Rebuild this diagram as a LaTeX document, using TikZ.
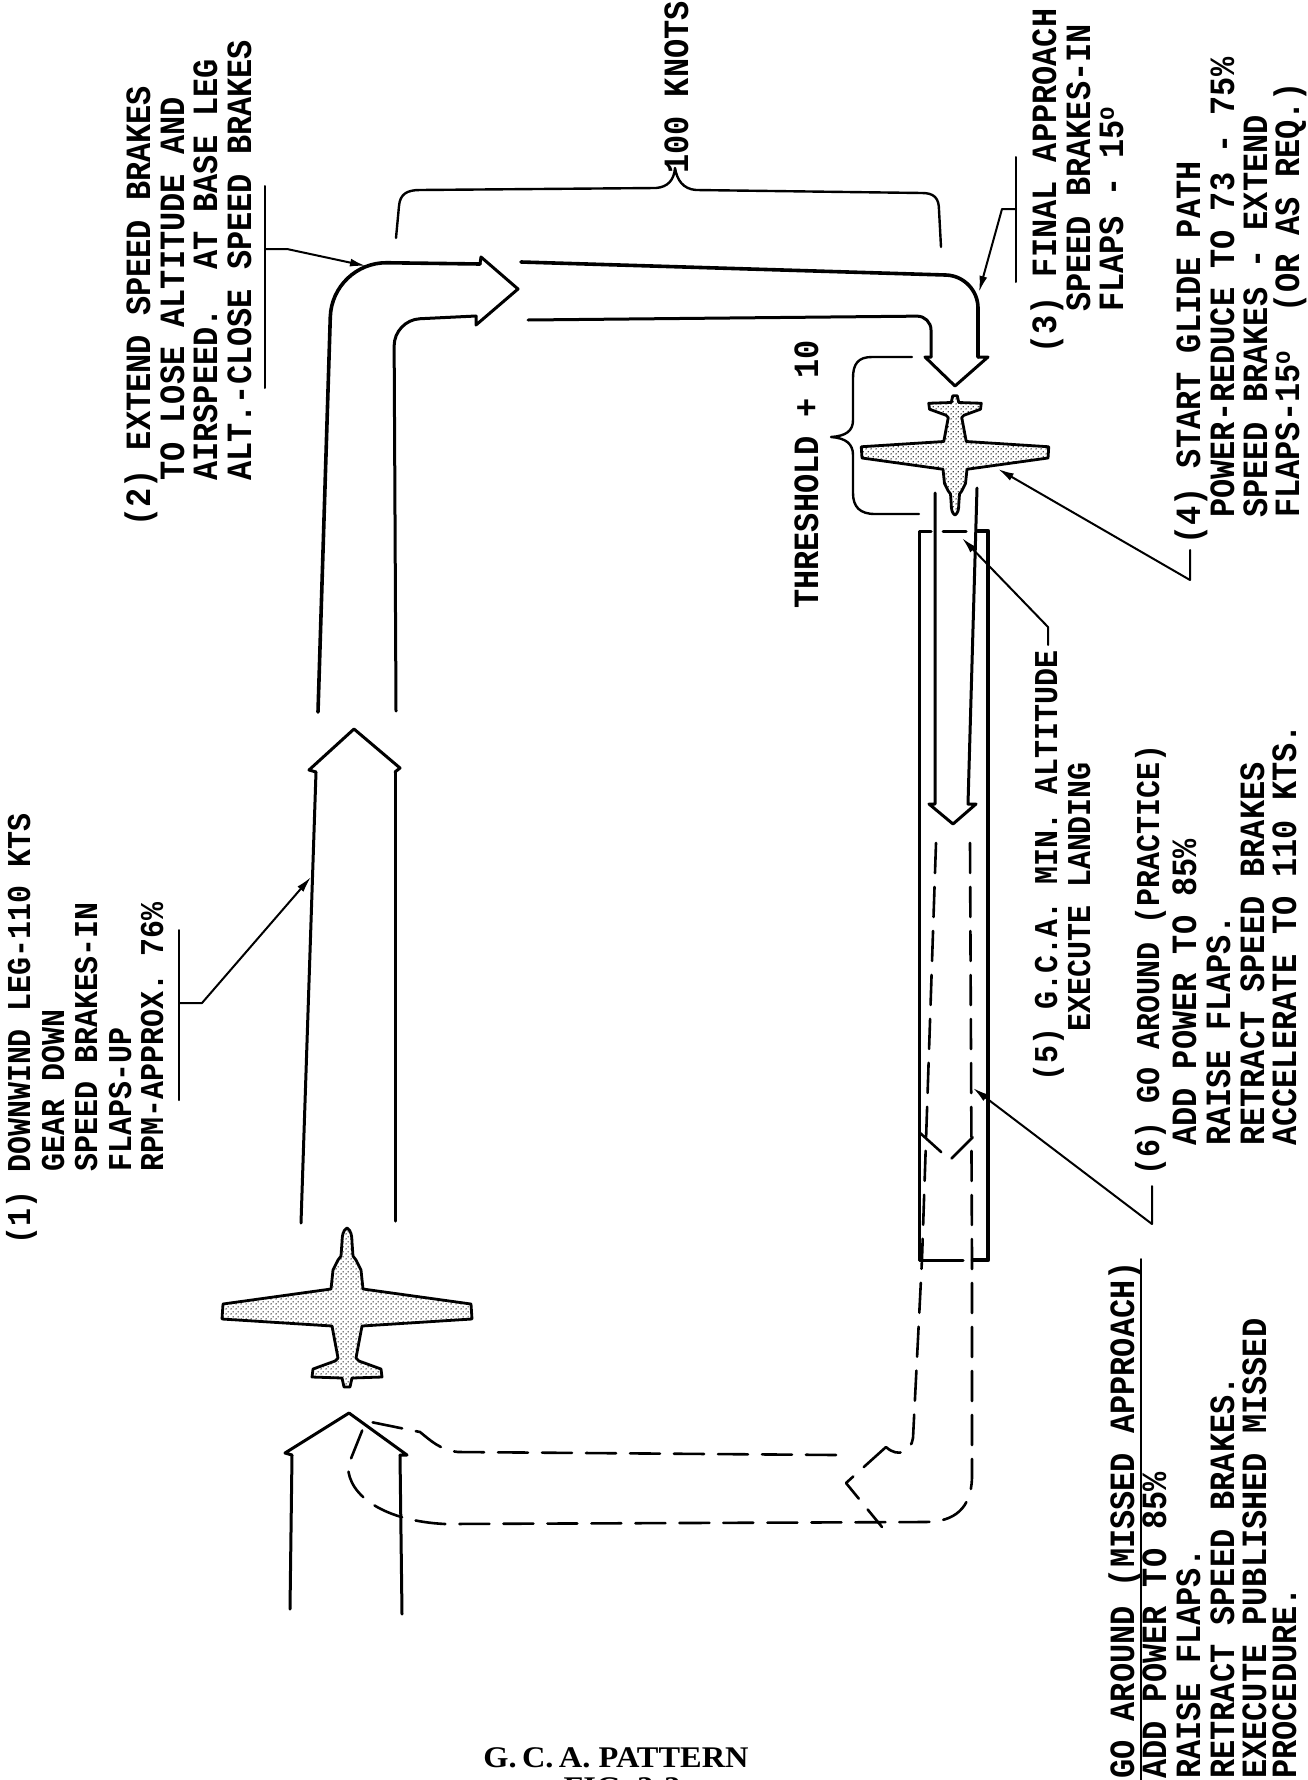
\documentclass[tikz,border=0pt]{standalone}
\usepackage{fontspec}
\newfontfamily\tw{Liberation Mono}[FakeStretch=0.9]
\newfontfamily\capfont{Liberation Serif}
\usetikzlibrary{arrows.meta,patterns}

% fine stipple used to shade the aircraft silhouettes
\pgfdeclarepatternformonly{stipple}{\pgfqpoint{0pt}{0pt}}{\pgfqpoint{5pt}{5pt}}{\pgfqpoint{5pt}{5pt}}{%
  \pgfpathcircle{\pgfqpoint{1.25pt}{1.25pt}}{0.85pt}%
  \pgfpathcircle{\pgfqpoint{3.75pt}{3.75pt}}{0.85pt}%
  \pgfusepath{fill}}

\tikzset{
  trk/.style={line width=3pt},
  trkb/.style={line width=3.6pt},
  dsh/.style={line width=2.6pt, dash pattern=on 30pt off 14pt},
  ldr/.style={line width=2pt},
  ldrarr/.style={line width=2pt, -{Latex[length=16pt,width=8pt]}},
  brace/.style={line width=2.4pt},
  plane/.style={line width=2.8pt, pattern=stipple, line join=round},
  lbl/.style={rotate=90, anchor=base west, inner sep=0pt,
    font=\tw\bfseries\fontsize{35.5}{36}\selectfont},
  lbls/.style={lbl, font=\tw\bfseries\fontsize{33.3}{34}\selectfont},
  jet/.pic={
    \draw[plane] (0,0) .. controls (4,2) and (5,8) .. (5,14) -- (6,28) -- (9,32)
      -- (14,42) -- (16,61) -- (124,76) -- (125,91) -- (15,98) -- (9,130)
      -- (12,133) -- (34,141) -- (35,149) -- (5,150) -- (3,159) -- (-3,159)
      -- (-5,150) -- (-35,149) -- (-34,141) -- (-12,133) -- (-9,130) -- (-15,98)
      -- (-125,91) -- (-124,76) -- (-16,61) -- (-14,42) -- (-9,32) -- (-6,28)
      -- (-5,14) .. controls (-5,8) and (-4,2) .. (0,0) -- cycle;
  }
}

\begin{document}
\begin{tikzpicture}[x=1pt,y=-1pt,line cap=round,line join=round]
\useasboundingbox (0,0) rectangle (1307,1780);
\fill[white] (0,0) rectangle (1307,1780);

% ---------- downwind leg: block arrow (1) ----------
\draw[trk] (316,772) -- (309,770) -- (354,729) -- (400,768) -- (395,772);
\draw[trk] (316,772) -- (301,1223);
\draw[trk] (395,772) -- (395,1221);

% ---------- turn onto base leg ----------
\draw[trkb, rounded corners=55pt] (318,712) -- (332,262) -- (480,264);
\draw[trk] (480,264) -- (481,257) -- (518,289) -- (476,325) -- (476,316);
\draw[trk, rounded corners=26pt] (476,316) -- (394,320) -- (396,711);

% ---------- base leg and turn onto final ----------
\draw[trkb, rounded corners=32pt] (521,262) -- (978,276) -- (978,357);
\draw[trk] (978,357) -- (988,357) -- (955,386) -- (925,357) -- (931,357);
\draw[trk, rounded corners=14pt] (931,357) -- (931,316) -- (528,320);

% ---------- final approach onto runway ----------
\draw[trk] (935,493) -- (935,804) -- (929,804) -- (953,824) -- (976,804) -- (968,804) -- (977,488);

% ---------- runway ----------
\draw[trk] (931,531) -- (919,531) -- (919,1260) -- (963,1260);
\draw[trk] (943,531) -- (966,531);
\draw[line width=4.5pt] (978,531) -- (988,531) -- (988,1260) -- (973,1260);

% ---------- practice go-around (dashed) ----------
\draw[dsh] (936,843) -- (922,1259) -- (913,1438) .. controls (911,1452) and (898,1458) .. (886,1447);
\draw[dsh] (970,843) -- (972,1260) -- (972,1478) .. controls (971,1508) and (955,1522) .. (925,1522)
  -- (445,1524) .. controls (385,1521) and (348,1496) .. (348,1466) -- (366,1421);
\draw[dsh] (919,1132) -- (950,1160) -- (980,1130);
\draw[dsh] (886,1447) -- (846,1483) -- (882,1527);
\draw[dsh] (836,1455) -- (458,1452) .. controls (440,1450) and (430,1440) .. (420,1432) -- (366,1421);

% ---------- start of the next downwind leg ----------
\draw[trk] (292,1455) -- (285,1453) -- (349,1413) -- (407,1455) -- (400,1455);
\draw[trk] (292,1455) -- (290,1609);
\draw[trk] (400,1455) -- (402,1614);

% ---------- braces ----------
\draw[brace] (396,238) -- (399,206) .. controls (400,194) and (407,190) .. (420,190) -- (656,188)
  .. controls (668,187) and (674,180) .. (675,168) .. controls (677,180) and (683,189) .. (696,190)
  -- (922,193) .. controls (934,193) and (939,198) .. (939,210) -- (941,247);
\draw[brace] (912,357) -- (872,357) .. controls (858,357) and (853,364) .. (853,378) -- (853,420)
  .. controls (853,431) and (846,436) .. (831,437) .. controls (846,438) and (853,444) .. (853,455)
  -- (853,493) .. controls (853,507) and (860,514) .. (875,514) -- (919,514);

% ---------- aircraft ----------
\pic (jetA) at (347,1228) {jet};
\pic[xscale=0.75, yscale=-0.75] (jetB) at (955,515) {jet};

% ---------- labels ----------
\node[lbls] (l1a) at (30,1245)  {(1) DOWNWIND LEG-110 KTS};
\node[lbls] (l1b) at (64,1172)  {GEAR DOWN};
\node[lbls] (l1c) at (97,1172)  {SPEED BRAKES-IN};
\node[lbls] (l1d) at (131,1172) {FLAPS-UP};
\node[lbls] (l1e) at (163,1172) {RPM-APPROX. 76\%};

\node[lbl] (l2a) at (150,527) {(2) EXTEND SPEED BRAKES};
\node[lbl] (l2b) at (184,481) {TO LOSE ALTITUDE AND};
\node[lbl] (l2c) at (217,481) {AIRSPEED.\ \ AT BASE LEG};
\node[lbl] (l2d) at (251,481) {ALT.-CLOSE SPEED BRAKES};

\node[lbl] (knots) at (688,174) {100 KNOTS};
\node[lbl] (thr) at (818,609) {THRESHOLD + 10};

\node[lbl] (l3a) at (1056,354) {(3) FINAL APPROACH};
\node[lbl] (l3b) at (1090,312) {SPEED BRAKES-IN};
\node[lbl] (l3c) at (1123,312) {FLAPS - 15\textsuperscript{o}};

\node[lbl] (l4a) at (1200,545) {(4) START GLIDE PATH};
\node[lbl] (l4b) at (1234,518) {POWER-REDUCE TO 73 - 75\%};
\node[lbl] (l4c) at (1267,518) {SPEED BRAKES - EXTEND};
\node[lbl] (l4d) at (1299,518) {FLAPS-15\textsuperscript{o}\ \ (OR AS REQ.)};

\node[lbls] (l5a) at (1057,1082) {(5) G.C.A. MIN. ALTITUDE};
\node[lbls] (l5b) at (1090,1032) {EXECUTE LANDING};

\node[lbls] (l6a) at (1159,1176) {(6) GO AROUND (PRACTICE)};
\node[lbl] (l6b) at (1196,1146) {ADD POWER TO 85\%};
\node[lbl] (l6c) at (1230,1146) {RAISE FLAPS.};
\node[lbl] (l6d) at (1264,1146) {RETRACT SPEED BRAKES};
\node[lbl] (l6e) at (1296,1146) {ACCELERATE TO 110 KTS.};

\node[lbl] (ga1) at (1134,1779) {GO AROUND (MISSED APPROACH)};
\node[lbl] (ga2) at (1166,1779) {ADD POWER TO 85\%};
\node[lbl] (ga3) at (1200,1779) {RAISE FLAPS.};
\node[lbl] (ga4) at (1234,1779) {RETRACT SPEED BRAKES.};
\node[lbl] (ga5) at (1266,1779) {EXECUTE PUBLISHED MISSED};
\node[lbl] (ga6) at (1296,1779) {PROCEDURE.};
\draw[ldr] (1141,1780) -- (1141,1259);

% ---------- leaders ----------
\coordinate (t1) at (311,877);
\coordinate (t2) at (366,266);
\coordinate (t3) at (979,292);
\coordinate (t4) at (998,469);
\coordinate (t5) at (962,538);
\coordinate (t6) at (973,1088);

\draw[ldr] (179,930) -- (179,1100);
\draw[ldrarr] (179,1003) -- (202,1003) -- (t1);
\draw[ldr] (265,186) -- (265,388);
\draw[ldrarr] (265,249) -- (287,249) -- (t2);
\draw[ldr] (1016,157) -- (1016,282);
\draw[ldrarr] (1016,209) -- (1002,209) -- (t3);
\draw[ldrarr] (1190,550) -- (1190,580) -- (t4);
\draw[ldrarr] (1048,645) -- (1048,627) -- (t5);
\draw[ldrarr] (1152,1186) -- (1152,1224) -- (t6);

% ---------- caption ----------
\node[anchor=base, inner sep=0pt, xscale=1.08, font=\capfont\bfseries\fontsize{30}{32}\selectfont]
  (cap) at (616,1767) {G.\,C.\,A. PATTERN};
\begin{scope}
\clip (0,0) rectangle (1307,1780);
\node[anchor=base, inner sep=0pt, xscale=1.08, font=\capfont\bfseries\fontsize{30}{32}\selectfont]
  (fig) at (622,1797) {FIG. 3-3};
\end{scope}
\end{tikzpicture}
\end{document}
